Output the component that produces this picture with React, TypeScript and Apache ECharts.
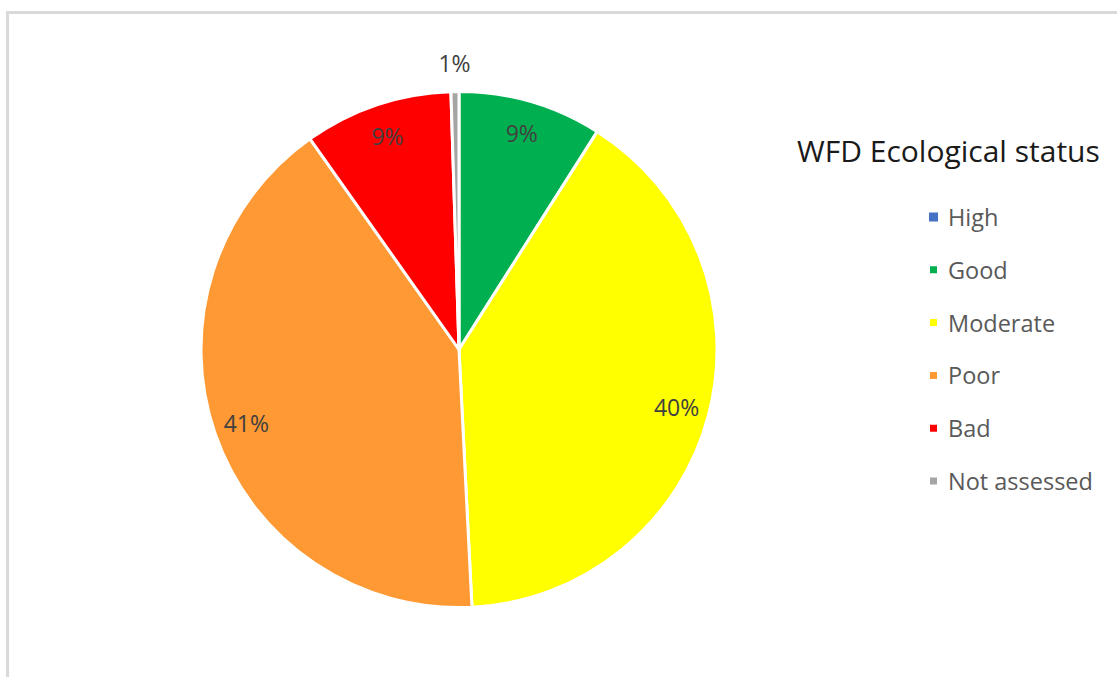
import React, { useEffect, useRef } from "react";
import * as echarts from "echarts";

const categories = ["High", "Good", "Moderate", "Poor", "Bad", "Not assessed"];
const values = [0, 9.0, 40.2, 41.0, 9.3, 0.5];
const colors = ["#4472c4", "#00b050", "#ffff00", "#ff9933", "#ff0000", "#a5a5a5"];
const legendTitle = "WFD Ecological status";

const CENTER: [number, number] = [459, 349.5];
const R = 258;

function pct(p: any) {
  if (!p.value) return "";
  return Math.round(p.percent) + "%";
}

export default function App() {
  const ref = useRef<HTMLDivElement>(null);
  useEffect(() => {
    if (!ref.current) return;
    const chart = echarts.init(ref.current, undefined, { renderer: "svg" });
    const mainData = categories.map((name, i) => ({
      name,
      value: values[i],
      itemStyle: { color: colors[i], borderWidth: values[i] === 0 ? 0 : 3 },
    }));
    const overlayInner = categories.map((name, i) => ({
      name,
      value: values[i],
      label: { show: name !== "Not assessed" && values[i] > 0 },
    }));
    const overlayOuter = categories.map((name, i) => ({
      name,
      value: values[i],
      label: { show: name === "Not assessed" },
    }));
    const labelStyle = {
      position: "inside" as const,
      formatter: pct,
      color: "#404040",
      fontSize: 23,
      fontFamily: "Open Sans",
    };
    chart.setOption({
      animation: false,
      backgroundColor: "#ffffff",
      graphic: [
        {
          type: "rect",
          shape: { x: 7.5, y: 12.5, width: 1300, height: 900 },
          style: { fill: "none", stroke: "#d9d9d9", lineWidth: 3 },
          silent: true,
        },
      ],
      title: {
        text: legendTitle,
        left: 792,
        top: 130,
        textStyle: {
          fontFamily: "Open Sans",
          fontSize: 30,
          fontWeight: "normal",
          color: "#1a1a1a",
        },
      },
      legend: {
        orient: "vertical",
        left: 923,
        top: 199,
        itemWidth: 9,
        itemHeight: 9,
        itemGap: 26.8,
        icon: "rect",
        selectedMode: false,
        data: categories.map((name, i) => ({ name, itemStyle: { color: colors[i] } })),
        textStyle: {
          fontFamily: "Open Sans",
          fontSize: 23.5,
          lineHeight: 26,
          color: "#595959",
          padding: [0, 0, 0, 5],
        },
      },
      series: [
        {
          type: "pie",
          name: "main",
          center: CENTER,
          radius: [0, R],
          startAngle: 90,
          clockwise: true,
          avoidLabelOverlap: false,
          silent: true,
          label: { show: false },
          labelLine: { show: false },
          itemStyle: { borderColor: "#ffffff", borderWidth: 3 },
          data: mainData,
        },
        {
          type: "pie",
          name: "labelsInner",
          center: CENTER,
          radius: [186, R],
          startAngle: 90,
          clockwise: true,
          avoidLabelOverlap: false,
          silent: true,
          percentPrecision: 2,
          itemStyle: { color: "transparent", borderWidth: 0 },
          label: labelStyle,
          labelLine: { show: false },
          data: overlayInner,
        },
        {
          type: "pie",
          name: "labelsOuter",
          center: CENTER,
          radius: [270, 298],
          startAngle: 90,
          clockwise: true,
          avoidLabelOverlap: false,
          silent: true,
          percentPrecision: 2,
          itemStyle: { color: "transparent", borderWidth: 0 },
          label: labelStyle,
          labelLine: { show: false },
          data: overlayOuter,
        },
      ],
    });
    return () => chart.dispose();
  }, []);
  return (
    <div
      ref={ref}
      style={{ position: "fixed", left: 0, top: 0, width: 1117, height: 677 }}
    />
  );
}
